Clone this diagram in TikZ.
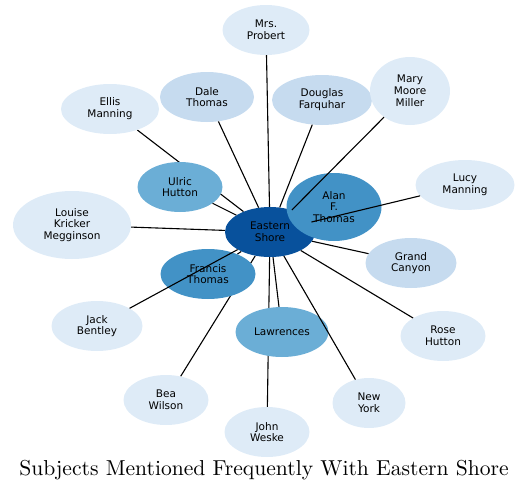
\documentclass[tikz,border=0pt]{standalone}
\usepackage{fontspec}
\newfontfamily\dejavu{DejaVu Sans}
\newfontfamily\titlefont{lmroman10-regular.otf}
\usepackage{tikz}
\usetikzlibrary{shapes.geometric,backgrounds}
\definecolor{blueshore}{HTML}{08519C}
\definecolor{bluemid}{HTML}{4292C6}
\definecolor{bluesoft}{HTML}{6BAED6}
\definecolor{bluepale}{HTML}{C6DBEF}
\definecolor{bluemist}{HTML}{DEEBF7}
\tikzset{
  subject/.style={
    ellipse,
    fill=bluemist,
    align=center,
    inner sep=0pt,
    minimum width=86pt,
    minimum height=50pt,
    font=\dejavu\fontsize{10.5}{11.8}\selectfont
  },
  tall/.style={
    minimum height=68pt
  },
  link/.style={
    line width=1.1pt,
    black
  }
}
\begin{document}
\begin{tikzpicture}[x=1pt,y=-1pt]
\useasboundingbox (0,0) rectangle (528,493);
\node[subject, fill=blueshore, minimum width=90pt] (es) at (270,232) {Eastern\\Shore};
\node[subject, fill=bluemid, minimum width=95pt] (francis) at (208,274) {Francis\\Thomas};
\node[subject, tall, fill=bluemid, minimum width=95pt] (alan) at (334,207) {Alan\\F.\\Thomas};
\node[subject, fill=bluesoft, minimum width=85pt] (ulric) at (180,187) {Ulric\\Hutton};
\node[subject, fill=bluesoft, minimum width=93pt] (law) at (282,332) {Lawrences};
\node[subject, fill=bluepale, minimum width=94pt] (dale) at (207,97) {Dale\\Thomas};
\node[subject, fill=bluepale, minimum width=100pt] (doug) at (322,100) {Douglas\\Farquhar};
\node[subject, fill=bluepale, minimum width=91pt] (grand) at (411,263) {Grand\\Canyon};
\node[subject, minimum width=87pt] (probert) at (266,30) {Mrs.\\Probert};
\node[subject, minimum width=98pt] (ellis) at (110,109) {Ellis\\Manning};
\node[subject, tall, minimum width=80pt] (mary) at (410,91) {Mary\\Moore\\Miller};
\node[subject, minimum width=99pt] (lucy) at (465,185) {Lucy\\Manning};
\node[subject, tall, minimum width=118pt] (louise) at (72,225) {Louise\\Kricker\\Megginson};
\node[subject, minimum width=91pt] (jack) at (97,326) {Jack\\Bentley};
\node[subject, minimum width=85pt] (rose) at (443,336) {Rose\\Hutton};
\node[subject, minimum width=85pt] (bea) at (166,400) {Bea\\Wilson};
\node[subject, minimum width=85pt] (john) at (267,432) {John\\Weske};
\node[subject, minimum width=73pt] (york) at (369,403) {New\\York};
\node[font=\titlefont\fontsize{21.6}{24}\selectfont] (title) at (264,470) {Subjects Mentioned Frequently With Eastern Shore};
\begin{scope}[on background layer]
\draw[link] (es) -- (ellis);
\draw[link] (es) -- (bea);
\draw[link] (es) -- (john);
\draw[link] (es) -- (alan);
\draw[link] (es) -- (francis);
\end{scope}
\draw[link] (es) -- (probert);
\draw[link] (es) -- (dale);
\draw[link] (es) -- (doug);
\draw[link] (es) -- (mary);
\draw[link] (es) -- (ulric);
\draw[link] (es) -- (louise);
\draw[link] (es) -- (lucy);
\draw[link] (es) -- (grand);
\draw[link] (es) -- (rose);
\draw[link] (es) -- (jack);
\draw[link] (es) -- (law);
\draw[link] (es) -- (york);
\end{tikzpicture}
\end{document}
